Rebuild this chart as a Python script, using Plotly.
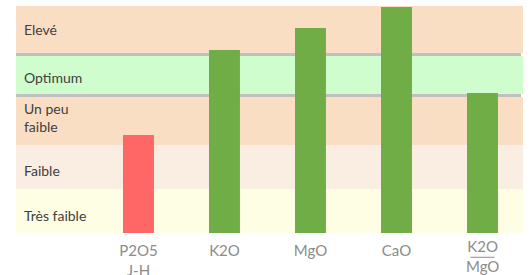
import plotly.graph_objects as go

# Data
categories = ["P2O5<br>J-H", "K2O", "MgO", "CaO", "K2O<br>MgO"]
values = [98, 183, 205, 226, 140]
bar_colors = ["#FF6666", "#70AD47", "#70AD47", "#70AD47", "#70AD47"]

band_labels = ["Très faible", "Faible", "Un peu<br>faible", "Optimum", "Elevé"]
band_lower = [0, 44, 88, 139, 180]
band_upper = [44, 88, 136, 177, 227]
band_colors = ["#FEFEE4", "#FAEDE2", "#FADEC4", "#CFFDCE", "#FADEC4"]
separators = [(136, 139), (177, 180)]

x_pos = list(range(1, len(categories) + 1))
fraction_index = 4  # last category drawn as a fraction

FONT = "Lato"
label_yshift = [-4, -3, 4, -2, 0]  # pixel nudges for band labels

fig = go.Figure()
fig.add_trace(go.Bar(
    x=x_pos, y=values, marker=dict(color=bar_colors, line=dict(width=0)),
    width=0.36, hoverinfo="skip",
))

shapes = []
for lo, hi, col in zip(band_lower, band_upper, band_colors):
    shapes.append(dict(type="rect", xref="paper", yref="y", x0=0, x1=1, y0=lo, y1=hi,
                       fillcolor=col, line=dict(width=0), layer="below"))
for lo, hi in separators:
    shapes.append(dict(type="rect", xref="paper", yref="y", x0=0, x1=0.996, y0=lo, y1=hi,
                       fillcolor="#C0C0C0", line=dict(width=0), layer="below"))

annotations = []
for lab, lo, hi, ys in zip(band_labels, band_lower, band_upper, label_yshift):
    annotations.append(dict(text=lab, xref="paper", yref="y", x=0, xshift=6, yshift=ys,
                            y=(lo + hi) / 2, xanchor="left", yanchor="middle",
                            showarrow=False, align="left",
                            font=dict(family=FONT, size=14, color="#404040")))

# fraction tick label
fx = x_pos[fraction_index]
annotations.append(dict(text=categories[fraction_index], xref="x", yref="paper", x=fx, y=-0.101,
                        yanchor="middle", showarrow=False,
                        font=dict(family=FONT, size=15, color="#8C8C8C")))
shapes.append(dict(type="line", xref="x", yref="paper", x0=fx - 0.14, x1=fx + 0.14,
                   y0=-0.107, y1=-0.107, line=dict(color="#8C8C8C", width=1)))

tick_text = [c if i != fraction_index else "" for i, c in enumerate(categories)]

fig.update_layout(
    width=531, height=275,
    margin=dict(l=16, r=8, t=6, b=42),
    paper_bgcolor="white", plot_bgcolor="white",
    showlegend=False,
    shapes=shapes, annotations=annotations,
    xaxis=dict(range=[-0.424, 5.471], tickvals=x_pos, ticktext=tick_text,
               showgrid=False, zeroline=False, showline=False, ticks="",
               automargin=False, ticklabelstandoff=7,
               tickfont=dict(family=FONT, size=15, color="#8C8C8C")),
    yaxis=dict(range=[0, 227], visible=False, showgrid=False, zeroline=False,
               automargin=False),
)

fig.write_html("out.html", config={"displayModeBar": False},
               post_script="document.body.style.margin='0';document.body.style.overflow='hidden';")
